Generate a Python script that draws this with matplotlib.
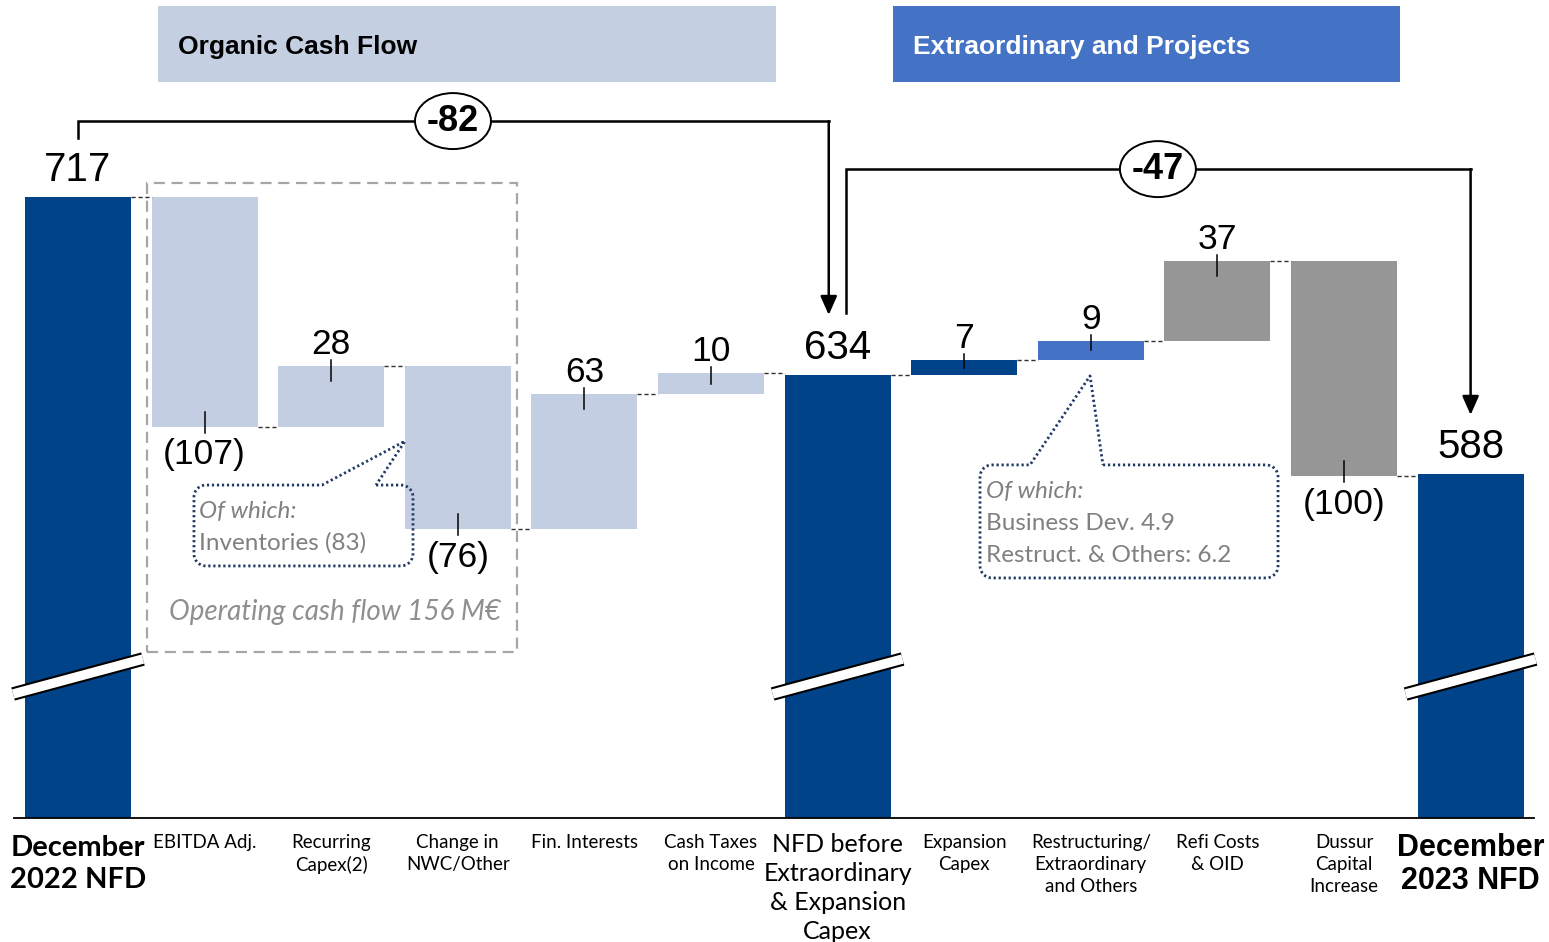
import numpy as np
import matplotlib.pyplot as plt
from matplotlib.patches import Rectangle, Ellipse

# net financial debt bridge, M€
categories = ["December\n2022 NFD", "EBITDA Adj.", "Recurring\nCapex(2)", "Change in\nNWC/Other",
              "Fin. Interests", "Cash Taxes\non Income", "NFD before\nExtraordinary\n& Expansion\nCapex",
              "Expansion\nCapex", "Restructuring/\nExtraordinary\nand Others", "Refi Costs\n& OID",
              "Dussur\nCapital\nIncrease", "December\n2023 NFD"]
values = [717, -107, 28, -76, 63, 10, 634, 7, 9, 37, -100, 588]
is_total = [True, False, False, False, False, False, True, False, False, False, False, True]
bridge_values = [-82, -47]

DARK = "#004388"
LIGHT = "#C3CEE2"
MID = "#4472C4"
GREY = "#969696"
NAVY = "#1F3864"
bar_colors = [DARK, LIGHT, LIGHT, LIGHT, LIGHT, LIGHT, DARK, DARK, MID, GREY, GREY, DARK]

BASE = 427.5        # visible floor of the truncated axis
W = 0.837           # bar width
PX_X = 126.6        # pixels per category
PX_Y = 2.145        # pixels per M€

fig = plt.figure(figsize=(15.49, 9.42), dpi=100)
ax = fig.add_axes([0, 0, 1, 1])
ax.set_xlim(-78 / PX_X, (1549 - 78) / PX_X)
ax.set_ylim(717 - (942 - 197) / PX_Y, 717 + 197 / PX_Y)
ax.axis("off")

x = np.arange(len(values))
running = 0.0
levels = []
for i, v in enumerate(values):
    if is_total[i]:
        bottom, top = BASE, v
        running = v
    else:
        start = running
        running = start + v
        bottom, top = min(start, running), max(start, running)
    levels.append(running)
    ax.add_patch(Rectangle((x[i] - W / 2, bottom), W, top - bottom, color=bar_colors[i], lw=0, zorder=2))

    if is_total[i]:
        ax.annotate(f"{v}", (x[i], v), xytext=(0, 19.5), textcoords="offset points",
                    ha="center", va="center", fontsize=29, family="Liberation Sans", zorder=5)
    else:
        sgn = 1 if v > 0 else -1
        edge = running
        inside = min(7, 0.5 * abs(v))
        ax.plot([x[i], x[i]], [edge + sgn * 2.8, edge - sgn * inside], color="black", lw=1.1, zorder=4)
        txt = f"{v}" if v > 0 else f"({-v})"
        off = 15.5 if v > 0 else -20.5
        ax.annotate(txt, (x[i], edge), xytext=(0, off), textcoords="offset points",
                    ha="center", va="center", fontsize=25.5, family="Liberation Sans", zorder=5)

# dashed connectors between neighbouring bars
for i in range(len(values) - 1):
    ax.plot([x[i] + W / 2, x[i + 1] - W / 2], [levels[i], levels[i]], color="#303030",
            lw=1.0, ls=(0, (3, 2)), zorder=3)

# baseline and axis-break marks on the total bars
ax.plot([-0.506, 11.5], [BASE, BASE], color="black", lw=1.3, zorder=3)
for i in np.where(is_total)[0]:
    bx = [x[i] - 0.513, x[i] + 0.513]
    by = [485.3, 501.6]
    ax.plot(bx, by, color="black", lw=9.8, solid_capstyle="butt", zorder=6)
    ax.plot(bx, by, color="white", lw=6.8, solid_capstyle="butt", zorder=7)

# category labels
for i, lab in enumerate(categories):
    if i == 0:
        kw = dict(fontsize=21, family="Lato", weight="bold", linespacing=1.3)
        dy = -12
    elif i == len(categories) - 1:
        kw = dict(fontsize=22, family="Liberation Sans", weight="bold", linespacing=1.12)
        dy = -11
    elif i == 6:
        kw = dict(fontsize=18, family="Lato", linespacing=1.32)
        dy = -11
    else:
        kw = dict(fontsize=13.5, family="Lato", linespacing=1.36)
        dy = -11.5
    ax.annotate(lab, (x[i], BASE), xytext=(0, dy), textcoords="offset points",
                ha="center", va="top", **kw)

# section headers
ax.add_patch(Rectangle((0.632, 770.6), 5.513 - 0.632, 806.0 - 770.6, color="#C4CFE2", lw=0, zorder=1))
ax.text(0.790, 787.0, "Organic Cash Flow", fontsize=19, weight="bold", family="Liberation Sans",
        va="center", ha="left")
ax.add_patch(Rectangle((6.438, 770.6), 10.442 - 6.438, 806.0 - 770.6, color=MID, lw=0, zorder=1))
ax.text(6.596, 787.0, "Extraordinary and Projects", fontsize=19, weight="bold",
        family="Liberation Sans", color="white", va="center", ha="left")


def bridge(pts, tip_y, label, lx, ly):
    xs, ys = zip(*pts)
    ax.plot(xs, ys, color="black", lw=1.8, solid_joinstyle="miter", zorder=4)
    ax.annotate("", xy=(xs[-1], tip_y), xytext=(xs[-1], ys[-1]),
                arrowprops=dict(arrowstyle="-|>,head_length=0.95,head_width=0.42", color="black",
                                lw=1.8, mutation_scale=12, shrinkA=0, shrinkB=0), zorder=4)
    ax.add_patch(Ellipse((lx, ly), 0.60, 26.1, facecolor="white", edgecolor="black", lw=1.4, zorder=5))
    ax.text(lx, ly, label, fontsize=26, weight="bold", family="Liberation Sans",
            ha="center", va="center", zorder=6)


bridge([(0, 744.5), (0, 752.4), (5.93, 752.4)], 662.0, f"{bridge_values[0]}", 2.962, 752.4)
bridge([(6.066, 663.0), (6.066, 730.0), (11.0, 730.0)], 615.4, f"{bridge_values[1]}", 8.53, 730.0)

# organic cash flow frame
ax.add_patch(Rectangle((0.545, 504.9), 3.468 - 0.545, 723.5 - 504.9, fill=False, edgecolor="#A6A6A6",
                       lw=1.6, ls=(0, (5, 3)), zorder=3))
ax.text(2.03, 523.5, "Operating cash flow 156 M€", fontsize=20, style="italic", family="Lato",
        color="#8F8F8F", ha="center", va="center")


def callout(x0, x1, y0, y1, nl, nr, tip, r_px=12):
    rx, ry = r_px / PX_X, r_px / PX_Y
    t = np.linspace(0, np.pi / 2, 12)
    pts = [(nr, y1), (x1 - rx, y1)]
    pts += list(zip(x1 - rx + rx * np.sin(t), y1 - ry + ry * np.cos(t)))
    pts += list(zip(x1 - rx + rx * np.cos(t), y0 + ry - ry * np.sin(t)))
    pts += list(zip(x0 + rx - rx * np.sin(t), y0 + ry - ry * np.cos(t)))
    pts += list(zip(x0 + rx - rx * np.cos(t), y1 - ry + ry * np.sin(t)))
    pts += [(nl, y1), tip, (nr, y1)]
    xs, ys = zip(*pts)
    ax.plot(xs, ys, color=NAVY, lw=2.0, ls=(0, (0.8, 1.0)), zorder=6)


callout(0.916, 2.646, 545.0, 582.7, 1.927, 2.354, (2.583, 603.2))
ax.text(0.956, 570.6, "Of which:", fontsize=17.5, style="italic", family="Lato", color="#808080",
        va="center", zorder=6)
ax.text(0.956, 555.7, "Inventories (83)", fontsize=17.5, family="Lato", color="#808080",
        va="center", zorder=6)

callout(7.125, 9.479, 539.4, 592.1, 7.52, 8.096, (7.994, 633.6))
ax.text(7.172, 579.9, "Of which:", fontsize=17.5, style="italic", family="Lato", color="#808080",
        va="center", zorder=6)
ax.text(7.172, 565.0, "Business Dev. 4.9", fontsize=17.5, family="Lato", color="#808080",
        va="center", zorder=6)
ax.text(7.172, 550.1, "Restruct. & Others: 6.2", fontsize=17.5, family="Lato", color="#808080",
        va="center", zorder=6)

fig.savefig("out.png", dpi=100)
